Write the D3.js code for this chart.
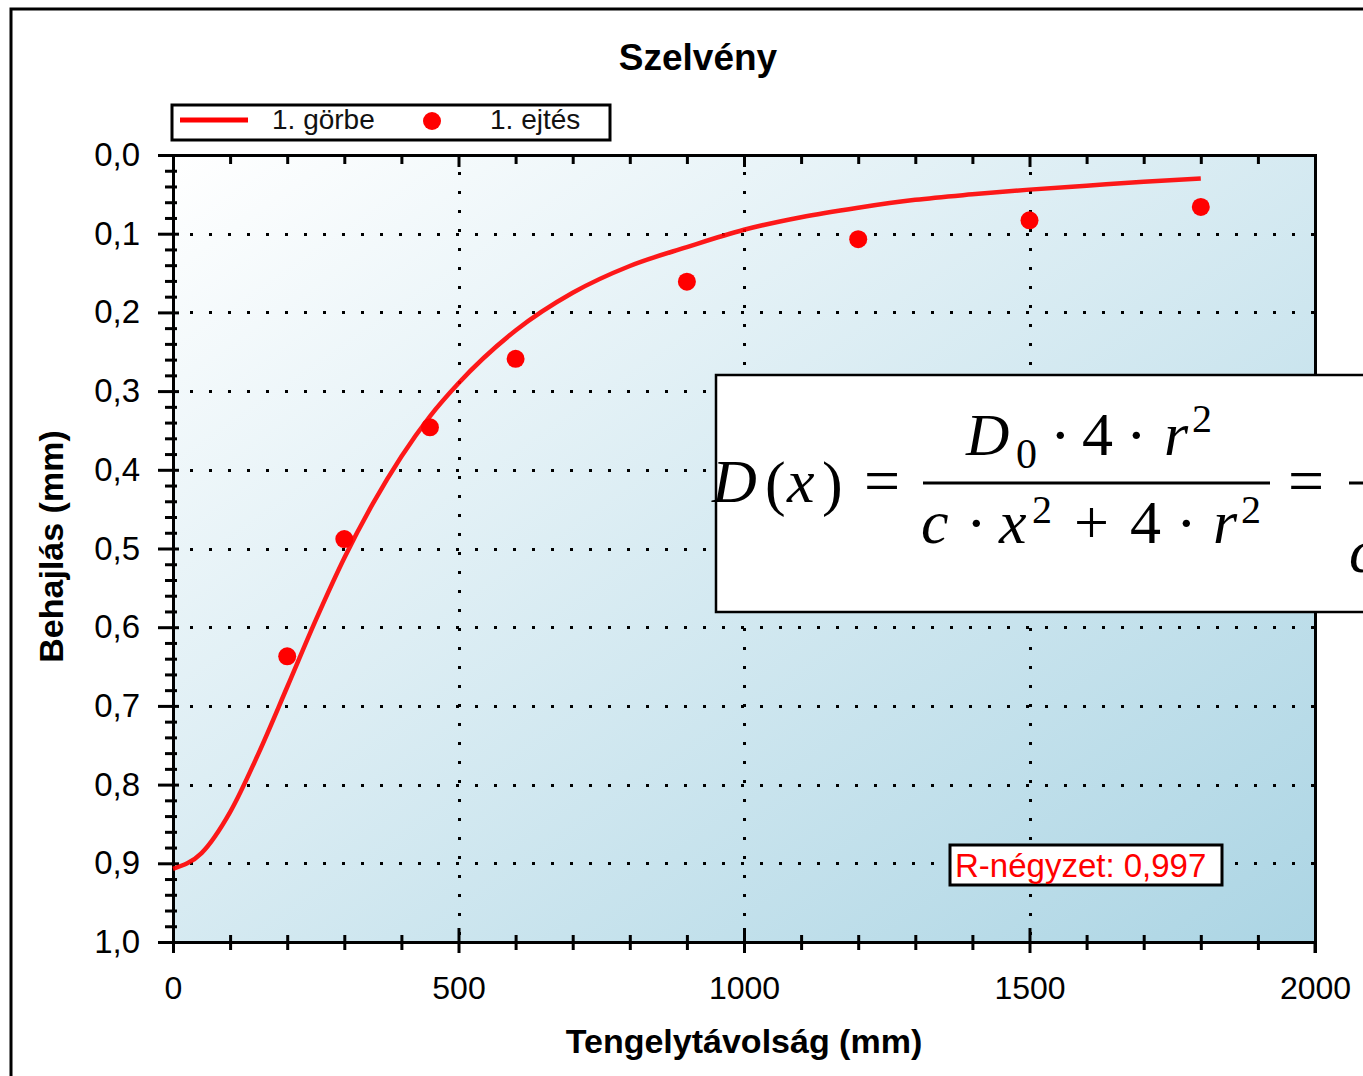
<!DOCTYPE html>
<html>
<head>
<meta charset="utf-8">
<script src="https://cdn.jsdelivr.net/npm/d3@7"></script>
<style>
  html, body { margin: 0; padding: 0; background: #ffffff; }
  svg { display: block; }
</style>
</head>
<body>
<svg id="chart" width="1363" height="1076"></svg>
<script>
// ---- data ----
const chartTitle = "Szelvény";
const xLabel = "Tengelytávolság (mm)";
const yLabel = "Behajlás (mm)";
const seriesNames = ["1. görbe", "1. ejtés"];

// measured points (1. ejtés)
const pointX = [200, 300, 450, 600, 900, 1200, 1500, 1800];
const pointY = [0.637, 0.488, 0.346, 0.259, 0.161, 0.107, 0.083, 0.066];

// fitted curve (1. görbe)
const curveX = [0, 50, 100, 150, 200, 250, 300, 350, 400, 450, 500, 600, 700, 800, 900, 1000, 1100, 1200, 1300, 1400, 1500, 1600, 1700, 1800];
const curveY = [0.907, 0.887, 0.835, 0.760, 0.676, 0.591, 0.512, 0.443, 0.383, 0.332, 0.290, 0.223, 0.175, 0.141, 0.117, 0.095, 0.079, 0.067, 0.057, 0.050, 0.044, 0.039, 0.034, 0.030];

const xTicks = [0, 500, 1000, 1500, 2000];
const xTickLabels = ["0", "500", "1000", "1500", "2000"];
const yTicks = [0, 0.1, 0.2, 0.3, 0.4, 0.5, 0.6, 0.7, 0.8, 0.9, 1.0];
const yTickLabels = ["0,0", "0,1", "0,2", "0,3", "0,4", "0,5", "0,6", "0,7", "0,8", "0,9", "1,0"];
const rSquaredText = "R-négyzet: 0,997";

// ---- layout ----
const svg = d3.select("#chart");
const pL = 173, pR = 1315, pT = 155, pB = 942;
const x = d3.scaleLinear().domain([0, 2000]).range([pL, pR]);
const y = d3.scaleLinear().domain([0, 1]).range([pT, pB]);
const sans = "'Liberation Sans', Arial, sans-serif";
const serif = "'Liberation Serif', 'Times New Roman', serif";

// outer frame
svg.append("rect").attr("x", 11).attr("y", 9).attr("width", 1500).attr("height", 1200)
  .attr("fill", "none").attr("stroke", "#000").attr("stroke-width", 3);

// gradient background
const defs = svg.append("defs");
const grad = defs.append("linearGradient").attr("id", "bg")
  .attr("x1", "0%").attr("y1", "0%").attr("x2", "100%").attr("y2", "100%");
grad.append("stop").attr("offset", "0%").attr("stop-color", "#ffffff");
grad.append("stop").attr("offset", "100%").attr("stop-color", "#acd5e4");
svg.append("rect").attr("x", pL).attr("y", pT).attr("width", pR - pL).attr("height", pB - pT)
  .attr("fill", "url(#bg)");

// grid lines (dotted)
const grid = svg.append("g").attr("stroke", "#000").attr("stroke-width", 3)
  .attr("stroke-dasharray", "3,16").attr("shape-rendering", "crispEdges");
grid.selectAll("line.h").data(yTicks.slice(1, -1)).join("line").attr("class", "h")
  .attr("x1", pL).attr("x2", pR).attr("y1", d => Math.round(y(d))).attr("y2", d => Math.round(y(d)))
  .attr("stroke-dashoffset", 2);
grid.selectAll("line.v").data(xTicks.slice(1, -1)).join("line").attr("class", "v")
  .attr("y1", pT).attr("y2", pB).attr("x1", d => Math.round(x(d))).attr("x2", d => Math.round(x(d)))
  .attr("stroke-dashoffset", 2);

// minor tick positions
const xMinor = d3.range(100, 2000, 100).filter(v => v % 500 !== 0);
const yMinor = d3.range(1, 50).map(i => i / 50).filter(v => Math.round(v * 50) % 5 !== 0);

// left axis
const gLeft = svg.append("g").attr("transform", `translate(${pL},0)`)
  .call(d3.axisLeft(y).tickValues(yTicks).tickSize(15).tickPadding(18)
    .tickFormat((d, i) => yTickLabels[i]));
gLeft.select(".domain").remove();
gLeft.selectAll(".tick line").attr("x1", 6).attr("stroke-width", 3);
gLeft.selectAll(".tick text").attr("font-family", sans).attr("font-size", 33).attr("fill", "#000");
const gLeftMinor = svg.append("g").attr("transform", `translate(${pL},0)`)
  .call(d3.axisLeft(y).tickValues(yMinor).tickSize(8).tickFormat(""));
gLeftMinor.select(".domain").remove();
gLeftMinor.selectAll(".tick line").attr("x1", 4).attr("stroke-width", 3);

// bottom axis
const gBottom = svg.append("g").attr("transform", `translate(0,${pB})`)
  .call(d3.axisBottom(x).tickValues(xTicks).tickSize(11).tickPadding(23)
    .tickFormat((d, i) => xTickLabels[i]));
gBottom.select(".domain").remove();
gBottom.selectAll(".tick line").attr("y1", -14).attr("stroke-width", 3);
gBottom.selectAll(".tick text").attr("font-family", sans).attr("font-size", 32).attr("fill", "#000");
const gBottomMinor = svg.append("g").attr("transform", `translate(0,${pB})`)
  .call(d3.axisBottom(x).tickValues(xMinor).tickSize(8).tickFormat(""));
gBottomMinor.select(".domain").remove();
gBottomMinor.selectAll(".tick line").attr("y1", -7).attr("stroke-width", 3);

// top axis (inward ticks only)
const gTop = svg.append("g").attr("transform", `translate(0,${pT})`)
  .call(d3.axisBottom(x).tickValues(xTicks.slice(1, -1)).tickSize(12).tickFormat(""));
gTop.select(".domain").remove();
gTop.selectAll(".tick line").attr("stroke-width", 3);
const gTopMinor = svg.append("g").attr("transform", `translate(0,${pT})`)
  .call(d3.axisBottom(x).tickValues(xMinor).tickSize(9).tickFormat(""));
gTopMinor.select(".domain").remove();
gTopMinor.selectAll(".tick line").attr("stroke-width", 3);

// plot border
svg.append("rect").attr("x", pL).attr("y", pT).attr("width", pR - pL).attr("height", pB - pT)
  .attr("fill", "none").attr("stroke", "#000").attr("stroke-width", 3).attr("shape-rendering", "crispEdges");
// right border extends a bit below the axis (like a tick at 2000)
svg.append("line").attr("x1", x(2000)).attr("x2", x(2000)).attr("y1", pB).attr("y2", pB + 11)
  .attr("stroke", "#000").attr("stroke-width", 3);

// curve
const curveData = curveX.map((v, i) => [v, curveY[i]]);
svg.append("path").datum(curveData)
  .attr("fill", "none").attr("stroke", "#ff0000").attr("stroke-width", 4.5).attr("stroke-opacity", 0.9)
  .attr("d", d3.line().x(d => x(d[0])).y(d => y(d[1])).curve(d3.curveMonotoneX));

// points
svg.append("g").selectAll("circle").data(pointX.map((v, i) => [v, pointY[i]])).join("circle")
  .attr("cx", d => x(d[0])).attr("cy", d => y(d[1])).attr("r", 9).attr("fill", "#ff0000");

// title
svg.append("text").attr("x", 698).attr("y", 70).attr("text-anchor", "middle")
  .attr("font-family", sans).attr("font-weight", "bold").attr("font-size", 37).attr("fill", "#000")
  .text(chartTitle);

// axis labels
svg.append("text").attr("x", (pL + pR) / 2).attr("y", 1053).attr("text-anchor", "middle")
  .attr("font-family", sans).attr("font-weight", "bold").attr("font-size", 34).attr("fill", "#000")
  .text(xLabel);
svg.append("text").attr("transform", `translate(63,${(pT + pB) / 2 - 2}) rotate(-90)`).attr("text-anchor", "middle")
  .attr("font-family", sans).attr("font-weight", "bold").attr("font-size", 34).attr("fill", "#000")
  .text(yLabel);

// legend
const lg = svg.append("g");
lg.append("rect").attr("x", 172).attr("y", 105).attr("width", 438).attr("height", 35)
  .attr("fill", "#fff").attr("stroke", "#000").attr("stroke-width", 3);
lg.append("line").attr("x1", 180).attr("x2", 248).attr("y1", 120).attr("y2", 120)
  .attr("stroke", "#ff0000").attr("stroke-width", 5);
lg.append("text").attr("x", 272).attr("y", 129).attr("font-family", sans).attr("font-size", 28)
  .attr("fill", "#111").text(seriesNames[0]);
lg.append("circle").attr("cx", 432).attr("cy", 121).attr("r", 9).attr("fill", "#ff0000");
lg.append("text").attr("x", 490).attr("y", 129).attr("font-family", sans).attr("font-size", 28)
  .attr("fill", "#111").text(seriesNames[1]);

// R-squared box
svg.append("rect").attr("x", 950).attr("y", 845).attr("width", 272).attr("height", 40)
  .attr("fill", "#fff").attr("stroke", "#000").attr("stroke-width", 3);
svg.append("text").attr("x", 955).attr("y", 877).attr("font-family", sans).attr("font-size", 33)
  .attr("fill", "#ff0000").text(rSquaredText);

// formula box
const fb = svg.append("g");
fb.append("rect").attr("x", 716).attr("y", 375).attr("width", 800).attr("height", 237)
  .attr("fill", "#fff").attr("stroke", "#000").attr("stroke-width", 2.5);
const pieces = [
  // [x, baseline, text, italic, size]
  [712, 502, "D", true, 62],
  [765, 504, "(", false, 62],
  [787, 502, "x", true, 62],
  [822, 504, ")", false, 62],
  [864, 502, "=", false, 64],
  [966, 455, "D", true, 60],
  [1016, 468, "0", false, 42],
  [1050, 456, "·", false, 62],
  [1082, 455, "4", false, 62],
  [1126, 456, "·", false, 62],
  [1164, 455, "r", true, 62],
  [1192, 432, "2", false, 40],
  [921, 543, "c", true, 62],
  [966, 544, "·", false, 62],
  [999, 543, "x", true, 62],
  [1032, 523, "2", false, 40],
  [1074, 543, "+", false, 62],
  [1130, 543, "4", false, 62],
  [1176, 544, "·", false, 62],
  [1213, 543, "r", true, 62],
  [1241, 523, "2", false, 40],
  [1288, 502, "=", false, 64],
  [1349, 572, "c", true, 62]
];
fb.selectAll("text").data(pieces).join("text")
  .attr("x", d => d[0]).attr("y", d => d[1]).text(d => d[2])
  .attr("font-family", serif).attr("font-style", d => d[3] ? "italic" : "normal")
  .attr("font-size", d => d[4]).attr("fill", "#000");
fb.append("line").attr("x1", 923).attr("x2", 1270).attr("y1", 483).attr("y2", 483)
  .attr("stroke", "#000").attr("stroke-width", 3);
fb.append("line").attr("x1", 1349).attr("x2", 1400).attr("y1", 483).attr("y2", 483)
  .attr("stroke", "#000").attr("stroke-width", 3);
</script>
</body>
</html>
